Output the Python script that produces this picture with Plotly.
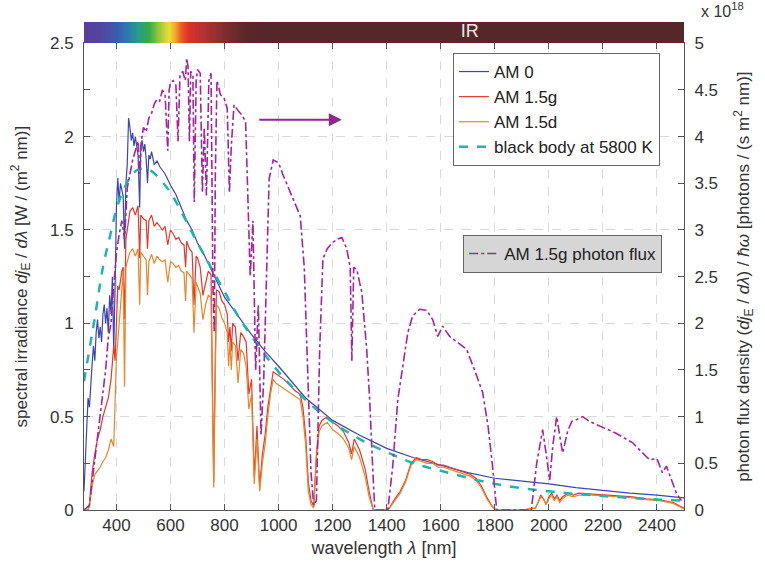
import numpy as np
import plotly.graph_objects as go

# ---------------- data ----------------
wl_am0 = [280, 285, 290, 295, 300, 305, 310, 315, 320, 325,
          330, 335, 340, 345, 350, 355, 360, 365, 370, 375,
          380, 385, 390, 395, 400, 405, 410, 415, 420, 425,
          430, 435, 440, 445, 450, 455, 460, 465, 470, 475,
          480, 486, 490, 495, 500, 505, 510, 515, 520, 525,
          530, 540, 550, 560, 570, 580, 590, 600, 620, 640,
          660, 680, 700, 720, 740, 760, 780, 800, 850, 900,
          950, 1000, 1100, 1200, 1300, 1400, 1500, 1600, 1700, 1800,
          1900, 2000, 2100, 2200, 2300, 2400, 2500]
am0 = [0.10, 0.30, 0.50, 0.60, 0.55, 0.70, 0.78, 0.88, 0.80, 0.95,
       1.02, 0.92, 0.98, 0.90, 1.05, 1.10, 1.00, 1.08, 0.95, 1.15,
       1.05, 1.25, 0.85, 1.20, 1.62, 1.78, 1.65, 1.75, 1.72, 1.68,
       1.40, 1.75, 1.85, 2.10, 2.05, 1.98, 2.02, 1.95, 2.00, 1.96,
       1.90, 1.62, 1.95, 1.98, 1.92, 1.96, 1.88, 1.75, 1.90, 1.88,
       1.92, 1.85, 1.87, 1.84, 1.82, 1.80, 1.77, 1.74, 1.69, 1.62,
       1.55, 1.50, 1.43, 1.38, 1.32, 1.26, 1.20, 1.14, 1.04, 0.94,
       0.85, 0.77, 0.60, 0.48, 0.40, 0.33, 0.28, 0.24, 0.20, 0.17,
       0.155, 0.14, 0.12, 0.105, 0.09, 0.08, 0.065]

wl_am15 = [280, 295, 300, 305, 310, 320, 330, 340, 350, 360,
           370, 380, 390, 395, 400, 405, 410, 420, 425, 430,
           435, 440, 450, 460, 470, 480, 486, 490, 500, 510,
           515, 520, 530, 540, 550, 560, 570, 580, 590, 600,
           610, 620, 630, 640, 650, 656, 660, 670, 680, 687,
           695, 700, 710, 720, 730, 740, 750, 755, 760, 765,
           770, 780, 790, 800, 810, 815, 820, 825, 830, 840,
           850, 860, 870, 880, 890, 900, 910, 920, 930, 940,
           950, 960, 970, 980, 990, 1000, 1020, 1040, 1060, 1080,
           1090, 1100, 1110, 1120, 1130, 1140, 1150, 1160, 1180, 1200,
           1220, 1240, 1260, 1270, 1280, 1300, 1320, 1335, 1350, 1360,
           1390, 1410, 1430, 1450, 1470, 1490, 1510, 1530, 1550, 1570,
           1590, 1610, 1630, 1650, 1670, 1690, 1710, 1730, 1750, 1770,
           1790, 1805, 1820, 1860, 1900, 1950, 1960, 1970, 1980, 1990,
           2000, 2010, 2020, 2030, 2040, 2050, 2070, 2090, 2110, 2160,
           2210, 2260, 2310, 2360, 2410, 2460, 2485, 2500]
am15g = [0, 0, 0.03, 0.12, 0.20, 0.30, 0.38, 0.43, 0.50, 0.55,
         0.60, 0.70, 0.88, 0.80, 1.05, 1.20, 1.18, 1.28, 1.30, 1.02,
         1.45, 1.50, 1.60, 1.62, 1.58, 1.63, 1.35, 1.58, 1.56, 1.55,
         1.40, 1.55, 1.58, 1.52, 1.54, 1.52, 1.50, 1.52, 1.42, 1.50,
         1.48, 1.45, 1.46, 1.43, 1.42, 1.30, 1.44, 1.40, 1.38, 1.10,
         1.36, 1.35, 1.30, 1.15, 1.22, 1.28, 1.26, 0.70, 0.15, 0.75,
         1.18, 1.17, 1.12, 1.10, 1.05, 0.90, 0.98, 0.85, 1.00, 0.98,
         0.80, 0.95, 0.93, 0.90, 0.62, 0.70, 0.18, 0.45, 0.12, 0.30,
         0.40, 0.55, 0.66, 0.74, 0.73, 0.72, 0.70, 0.67, 0.64, 0.62,
         0.55, 0.40, 0.15, 0.05, 0.02, 0.30, 0.45, 0.48, 0.50, 0.47,
         0.45, 0.42, 0.36, 0.30, 0.38, 0.32, 0.22, 0.10, 0.0, 0.0,
         0.0, 0.01, 0.06, 0.10, 0.16, 0.25, 0.28, 0.27, 0.27, 0.26,
         0.24, 0.24, 0.23, 0.22, 0.21, 0.20, 0.19, 0.17, 0.13, 0.07,
         0.02, 0.0, 0.0, 0.0, 0.0, 0.01, 0.04, 0.08, 0.06, 0.03,
         0.07, 0.09, 0.06, 0.08, 0.05, 0.07, 0.09, 0.08, 0.09, 0.085,
         0.08, 0.075, 0.07, 0.06, 0.055, 0.04, 0.02, 0.01]
am15d = [0, 0, 0.02, 0.08, 0.13, 0.19, 0.21, 0.23, 0.26, 0.28,
         0.32, 0.38, 0.34, 0.60, 0.82, 0.90, 1.00, 1.15, 1.28, 0.66,
         1.30, 1.33, 1.38, 1.40, 1.36, 1.40, 1.10, 1.38, 1.36, 1.34,
         1.15, 1.33, 1.37, 1.32, 1.36, 1.34, 1.33, 1.34, 1.22, 1.33,
         1.32, 1.30, 1.31, 1.28, 1.27, 1.12, 1.28, 1.26, 1.24, 0.95,
         1.22, 1.20, 1.16, 1.02, 1.10, 1.15, 1.14, 0.60, 0.12, 0.65,
         1.10, 1.08, 1.03, 1.00, 0.95, 0.77, 0.90, 0.75, 0.90, 0.88,
         0.68, 0.86, 0.84, 0.77, 0.54, 0.62, 0.14, 0.38, 0.10, 0.25,
         0.35, 0.50, 0.62, 0.70, 0.68, 0.67, 0.65, 0.63, 0.61, 0.59,
         0.50, 0.35, 0.10, 0.03, 0.01, 0.28, 0.42, 0.45, 0.47, 0.43,
         0.41, 0.38, 0.33, 0.27, 0.34, 0.28, 0.18, 0.07, 0.0, 0.0,
         0.0, 0.01, 0.05, 0.09, 0.15, 0.24, 0.27, 0.26, 0.25, 0.25,
         0.23, 0.23, 0.22, 0.21, 0.20, 0.19, 0.18, 0.16, 0.12, 0.06,
         0.02, 0.0, 0.0, 0.0, 0.0, 0.01, 0.04, 0.07, 0.06, 0.03,
         0.06, 0.08, 0.05, 0.07, 0.04, 0.06, 0.08, 0.07, 0.08, 0.08,
         0.075, 0.07, 0.065, 0.055, 0.05, 0.035, 0.015, 0.005]

wl_bb = [280, 300, 320, 350, 375, 400, 425, 450, 475, 500,
         525, 550, 600, 650, 700, 750, 800, 850, 900, 1000,
         1100, 1200, 1300, 1400, 1500, 1600, 1800, 2000, 2200, 2400,
         2500]
bb5800 = [0.69, 0.86, 1.03, 1.30, 1.46, 1.61, 1.71, 1.78, 1.82, 1.83,
          1.82, 1.79, 1.70, 1.57, 1.43, 1.30, 1.17, 1.04, 0.93, 0.74,
          0.59, 0.47, 0.38, 0.31, 0.25, 0.21, 0.14, 0.10, 0.075, 0.056,
          0.05]

wl_pf = [280, 300, 310, 320, 330, 340, 350, 360, 370, 380,
         390, 400, 410, 420, 430, 440, 450, 460, 470, 480,
         487, 492, 500, 510, 520, 530, 540, 550, 560, 570,
         580, 590, 595, 600, 610, 620, 628, 635, 645, 655,
         660, 665, 670, 675, 683, 688, 695, 700, 710, 718,
         725, 733, 742, 750, 757, 762, 766, 772, 785, 800,
         810, 818, 825, 835, 850, 865, 878, 888, 895, 905,
         915, 925, 935, 945, 955, 965, 980, 1000, 1015, 1030,
         1050, 1065, 1080, 1095, 1110, 1120, 1130, 1140, 1152, 1164,
         1180, 1195, 1215, 1234, 1252, 1265, 1271, 1278, 1289, 1308,
         1326, 1337, 1348, 1356, 1404, 1422, 1441, 1459, 1478, 1496,
         1522, 1548, 1570, 1589, 1607, 1633, 1660, 1696, 1725, 1755,
         1775, 1792, 1807, 1935, 1955, 1977, 1990, 2003, 2015, 2029,
         2040, 2051, 2070, 2085, 2103, 2125, 2150, 2188, 2220, 2250,
         2280, 2310, 2340, 2372, 2400, 2420, 2435, 2455, 2472, 2490]
pf15g = [0, 0.05, 0.3, 0.55, 0.8, 1.0, 1.3, 1.5, 1.85, 2.0,
         2.4, 2.75, 2.95, 3.1, 2.9, 3.45, 3.6, 3.75, 3.85, 3.95,
         3.6, 3.95, 4.1, 4.05, 4.2, 4.25, 4.35, 4.4, 4.38, 4.5,
         4.45, 3.85, 4.5, 4.58, 4.6, 4.55, 3.95, 4.65, 4.7, 4.6,
         4.84, 4.75, 3.95, 4.7, 4.65, 3.3, 4.6, 4.72, 4.68, 3.4,
         4.1, 3.37, 4.6, 4.68, 2.4, 1.9, 3.6, 4.6, 4.45, 4.4,
         4.3, 3.4, 3.9, 4.34, 4.28, 4.23, 4.16, 3.2, 2.5, 3.1,
         1.5, 2.2, 0.8, 1.4, 2.6, 3.55, 3.75, 3.72, 3.6, 3.5,
         3.35, 3.25, 3.15, 2.6, 1.3, 0.4, 0.05, 0.1, 1.72, 2.69,
         2.8, 2.85, 2.9, 2.92, 2.8, 2.6, 1.6, 2.6, 2.58, 2.33,
         1.72, 1.18, 0.46, 0, 0, 0.46, 1.18, 1.54, 1.9, 2.08,
         2.15, 2.14, 2.04, 1.86, 1.97, 1.86, 1.8, 1.72, 1.5, 1.26,
         0.9, 0.46, 0, 0, 0.5, 0.86, 0.6, 0.32, 0.7, 1.0,
         0.8, 0.61, 0.85, 0.95, 0.97, 1.0, 0.95, 0.9, 0.86, 0.82,
         0.77, 0.72, 0.63, 0.54, 0.55, 0.4, 0.47, 0.3, 0.18, 0.1]

x_ticks = [400, 600, 800, 1000, 1200, 1400, 1600, 1800, 2000, 2200, 2400]
y_ticks = [0, 0.5, 1, 1.5, 2, 2.5]
y_tick_text = ["0", "0.5", "1", "1.5", "2", "2.5"]
y2_ticks = [0, 0.5, 1, 1.5, 2, 2.5, 3, 3.5, 4, 4.5, 5]
y2_tick_text = ["0", "0.5", "1", "1.5", "2", "2.5", "3", "3.5", "4", "4.5", "5"]

# colour band (wavelength stop -> colour)
band_nm = [280, 340, 400, 440, 480, 520, 560, 595, 615, 640, 665, 720, 800, 880, 950, 2500]
band_col = ["#5a3d99", "#51469f", "#3c5aab", "#2c78b0", "#299a8c", "#37ac4a",
            "#9cc83a", "#ecdf36", "#f0b02a", "#ea5a28", "#dc3329", "#b43232",
            "#7e2e2e", "#5a272a", "#55262a", "#55262a"]
band_label = "IR"
band_label_nm = 1707

for a, b in [(wl_am0, am0), (wl_am15, am15g), (wl_am15, am15d), (wl_bb, bb5800), (wl_pf, pf15g)]:
    assert len(a) == len(b)

# ---------------- figure ----------------
FONT = "Arial, 'Liberation Sans', Helvetica, sans-serif"
lo, hi = 280, 2500
cscale = [[(w - lo) / (hi - lo), c] for w, c in zip(band_nm, band_col)]
band_x = np.arange(lo, hi + 1, 2)

fig = go.Figure()
fig.add_trace(go.Heatmap(x=band_x, y=[0], z=[band_x], colorscale=cscale, zmin=lo, zmax=hi,
                         showscale=False, xaxis="x", yaxis="y3", hoverinfo="skip"))
fig.add_trace(go.Scatter(x=[band_label_nm], y=[0], mode="text", text=[band_label],
                         textposition="middle center", xaxis="x", yaxis="y3",
                         textfont=dict(family="Arial, 'Liberation Sans', sans-serif", size=18, color="#f3e8e8"),
                         showlegend=False, hoverinfo="skip"))

fig.add_trace(go.Scatter(x=wl_am0, y=am0, mode="lines", name="AM 0",
                         line=dict(color="#3a46b0", width=1.2), legend="legend"))
fig.add_trace(go.Scatter(x=wl_am15, y=am15g, mode="lines", name="AM 1.5g",
                         line=dict(color="#e5372b", width=1.2), legend="legend"))
fig.add_trace(go.Scatter(x=wl_am15, y=am15d, mode="lines", name="AM 1.5d",
                         line=dict(color="#e9852a", width=1.2), legend="legend"))
fig.add_trace(go.Scatter(x=wl_bb, y=bb5800, mode="lines", name="black body at 5800 K",
                         line=dict(color="#20b4ae", width=2.5, dash="dash", shape="spline"),
                         legend="legend"))
fig.add_trace(go.Scatter(x=wl_pf, y=pf15g, mode="lines", name="AM 1.5g photon flux",
                         line=dict(color="#a3249e", width=1.6, dash="dashdot"),
                         yaxis="y2", legend="legend2"))

axis_line = "#555555"
grid_col = "#d9d9d9"
tick_font = dict(family=FONT, size=17, color="#333333")
main_top = 0.9563

fig.update_layout(
    width=765, height=567,
    margin=dict(l=84, r=81, t=22, b=57),
    paper_bgcolor="white", plot_bgcolor="white",
    font=dict(family=FONT, size=17, color="#333333"),
    xaxis=dict(range=[lo, hi], domain=[0, 1], anchor="y",
               tickvals=x_ticks, ticks="inside", ticklen=6, tickcolor=axis_line,
               showline=True, linecolor=axis_line, linewidth=1, mirror="ticks",
               showgrid=True, gridcolor=grid_col, griddash="dash", gridwidth=1,
               zeroline=False, tickfont=tick_font,
               title=dict(text="wavelength <i>λ</i> [nm]", font=dict(family=FONT, size=18, color="#333"),
                          standoff=6)),
    yaxis=dict(range=[0, 2.5], domain=[0, main_top], anchor="x",
               tickvals=y_ticks, ticktext=y_tick_text, ticks="inside", ticklen=6,
               tickcolor=axis_line, showline=True, linecolor=axis_line, linewidth=1,
               minor=dict(dtick=0.25, ticks="inside", ticklen=6, tickcolor=axis_line, showgrid=False),
               showgrid=True, gridcolor=grid_col, griddash="dash", gridwidth=1,
               zeroline=False, tickfont=tick_font, ticklabelstandoff=6,
               title=dict(text="spectral irradiance <i>dj</i><sub>E</sub> / <i>dλ</i> [W / (m<sup>2</sup> nm)]",
                          font=dict(family=FONT, size=17, color="#333"), standoff=18)),
    yaxis2=dict(range=[0, 5], overlaying="y", side="right", anchor="x",
                tickvals=y2_ticks, ticktext=y2_tick_text, ticks="inside", ticklen=6,
                tickcolor=axis_line, showline=True, linecolor=axis_line, linewidth=1,
                showgrid=False, zeroline=False, tickfont=tick_font, ticklabelstandoff=6,
                title=dict(text="photon flux density (<i>dj</i><sub>E</sub> / <i>dλ</i>) / <i>ħω</i> [photons / (s m<sup>2</sup> nm)]",
                           font=dict(family=FONT, size=17, color="#333"), standoff=20)),
    yaxis3=dict(domain=[main_top, 1], range=[-0.5, 0.5], anchor="x", visible=False, fixedrange=True),
    legend=dict(x=0.615, y=0.9365, xanchor="left", yanchor="top", bgcolor="white",
                bordercolor="#666666", borderwidth=1, font=dict(family=FONT, size=17, color="#222"),
                tracegroupgap=0, entrywidth=172, entrywidthmode="pixels"),
    legend2=dict(x=0.632, y=0.5635, xanchor="left", yanchor="top", bgcolor="#d6d6d6",
                 bordercolor="#666666", borderwidth=1, font=dict(family=FONT, size=17, color="#222"),
                 entrywidth=162, entrywidthmode="pixels"),
    annotations=[
        dict(x=1.025, y=1.025, xref="paper", yref="paper", text="x 10<sup>18</sup>", showarrow=False,
             xanchor="left", yanchor="middle", font=dict(family=FONT, size=16, color="#333")),
        dict(x=1234, y=2.09, ax=923, ay=2.09, xref="x", yref="y", axref="x", ayref="y",
             text="", showarrow=True, arrowhead=2, arrowsize=1.3, arrowwidth=2,
             arrowcolor="#8b2c8c"),
    ],
)

fig.write_html("out.html")
